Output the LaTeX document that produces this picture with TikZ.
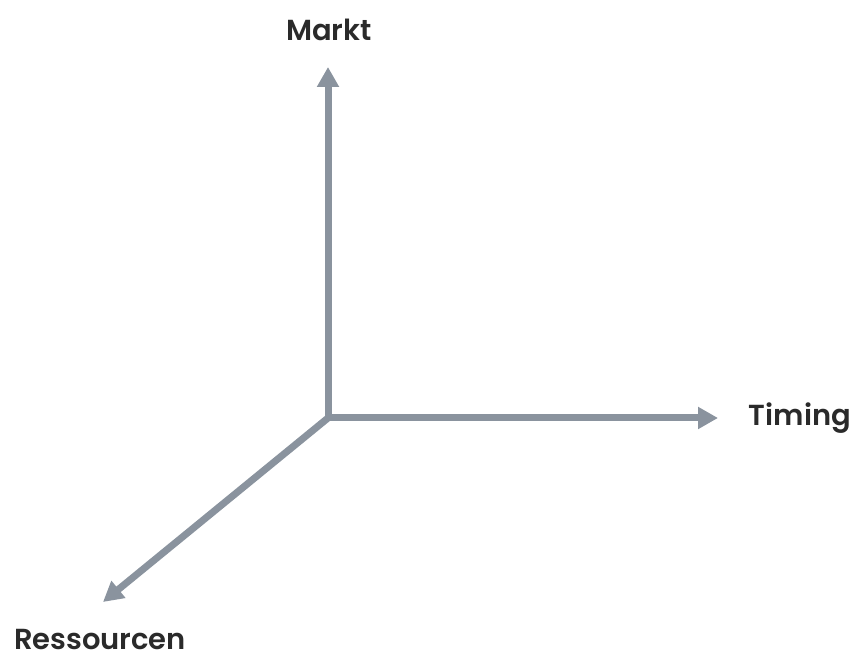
\documentclass[tikz,border=0pt]{standalone}
\usepackage{fontspec}
\setmainfont{Poppins}[BoldFont={Poppins SemiBold}]
\usetikzlibrary{arrows.meta}
\definecolor{axisgray}{HTML}{8A939E}
\definecolor{labelgray}{HTML}{2A2A2A}
\tikzstyle{every picture}=[x=1pt, y=1pt, >={Triangle[length=20pt,width=21pt]}]
\tikzstyle{axis}=[draw=axisgray, line width=7pt, ->]
\tikzstyle{axislabel}=[text=labelgray, font=\fontsize{29}{35}\selectfont\bfseries, inner sep=0pt]

\begin{document}
\begin{tikzpicture}
	\useasboundingbox (0,0) rectangle (857,660);
	\coordinate (o) at (328,242);
	\node[axislabel] (markt) at (329,630) {Markt};
	\node[axislabel] (timing) at (800,242) {Timing};
	\node[axislabel] (res) at (100,20) {Ressourcen};
	\coordinate (mtip) at (328,593);
	\coordinate (ttip) at (718,242);
	\coordinate (rtip) at (103,58);
	\draw[axis] (o) -- (mtip);
	\draw[axis] (o) -- (ttip);
	\draw[axis] (o) -- (rtip);
\end{tikzpicture}
\end{document}
